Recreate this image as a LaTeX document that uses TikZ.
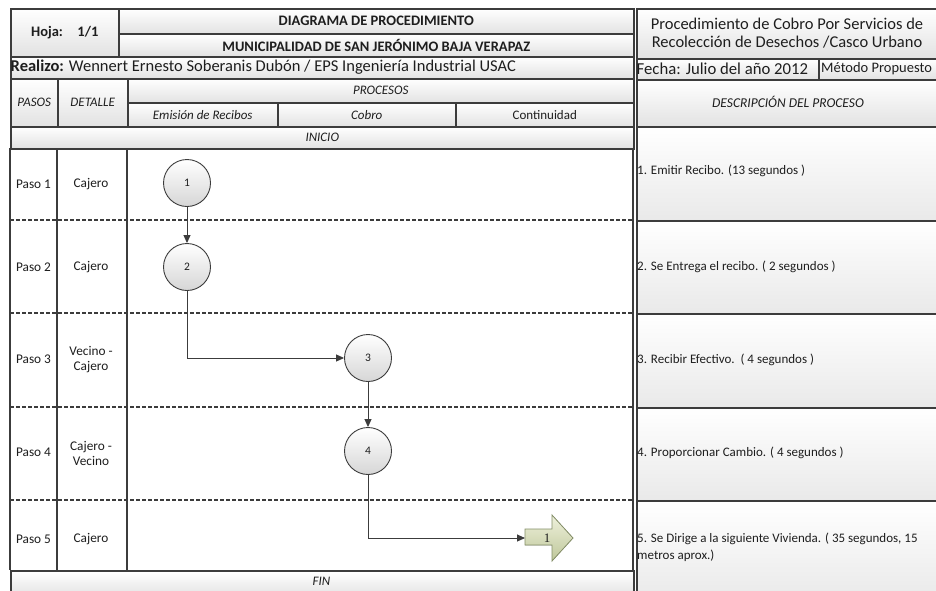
\documentclass[tikz,border=0pt]{standalone}
\usepackage{fontspec}
\setmainfont{Carlito}
\newfontfamily\numfont{Liberation Serif}
\usetikzlibrary{arrows.meta}
\definecolor{bdr}{HTML}{3C3C3C}
\definecolor{cellbot}{HTML}{E2E2E2}
\definecolor{descbot}{HTML}{E9E9E9}
\definecolor{circbot}{HTML}{D6D6D6}
\definecolor{arrtop}{HTML}{EEF1DC}
\definecolor{arrbot}{HTML}{BFC79A}
\definecolor{arrbdr}{HTML}{858F68}
\definecolor{txt}{HTML}{1E1E1E}
\newcommand{\fsz}[2]{\fontsize{#1}{#2}\selectfont}
\begin{document}
\begin{tikzpicture}[x=1pt,y=-1pt,
  cell/.style={draw=bdr, line width=1.5pt, top color=white, bottom color=cellbot,
    inner sep=0pt, anchor=north west, text=txt},
  desccell/.style={draw=bdr, line width=1.5pt, top color=white, bottom color=descbot,
    inner sep=0pt, anchor=north west},
  lane/.style={draw=bdr, line width=1.6pt},
  sep/.style={draw=bdr, line width=1.6pt, dash pattern=on 4pt off 2pt},
  titletxt/.style={font=\fsz{14.5}{17}\bfseries, text=txt},
  bigtxt/.style={font=\fsz{16.5}{19}, text=txt},
  smalltxt/.style={font=\fsz{13.3}{15}, text=txt, align=center},
  labtxt/.style={font=\fsz{13}{15}\itshape, text=txt},
  desctxt/.style={font=\fsz{13}{17}, text=txt, anchor=west, align=left},
  proc/.style={circle, draw=bdr, line width=0.9pt, top color=white, bottom color=circbot,
    minimum size=47pt, inner sep=0pt, font=\fsz{11.5}{13}, text=txt},
  conn/.style={draw=bdr, line width=0.9pt, -{Triangle[length=8pt,width=7pt]}}
]
\useasboundingbox (0,0) rectangle (936,590);
\clip (0,0) rectangle (936,590);
\fill[white] (0,0) rectangle (936,590);

% ---------- header left ----------
\node[cell, minimum width=108pt, minimum height=48pt, titletxt] (hoja) at (10,8) {Hoja:\quad 1/1};
\node[cell, minimum width=515pt, minimum height=25pt, titletxt] (tit1) at (118,8) {DIAGRAMA DE PROCEDIMIENTO};
\node[cell, minimum width=515pt, minimum height=23pt, titletxt] (tit2) at (118,33) {MUNICIPALIDAD DE SAN JERÓNIMO BAJA VERAPAZ};
\node[cell, minimum width=623pt, minimum height=22pt] (realizo) at (10,56) {};
\node[bigtxt, anchor=west, inner sep=0pt] (realizotxt) at (10.5,67) {\textbf{Realizo:} Wennert Ernesto Soberanis Dubón / EPS Ingeniería Industrial USAC};

\node[cell, minimum width=47pt, minimum height=48pt, labtxt] (pasos) at (10,78) {PASOS};
\node[cell, minimum width=70pt, minimum height=48pt, labtxt] (detalle) at (57,78) {DETALLE};
\node[cell, minimum width=506pt, minimum height=24pt, labtxt] (procesos) at (127,78) {PROCESOS};
\node[cell, minimum width=150pt, minimum height=24pt, labtxt] (emision) at (127,102) {Emisión de Recibos};
\node[cell, minimum width=178pt, minimum height=24pt, labtxt] (cobro) at (277,102) {Cobro};
\node[cell, minimum width=178pt, minimum height=24pt, font=\fsz{13}{15}] (contin) at (455,102) {Continuidad};
\node[cell, minimum width=623pt, minimum height=22pt, labtxt] (inicio) at (10,126) {INICIO};

% ---------- header right ----------
\node[cell, minimum width=320pt, minimum height=50pt] (rtitle) at (636,8) {};
\node[bigtxt, align=center, font=\fsz{16.5}{18.5}] (rtitletxt) at (787,33)
  {Procedimiento de Cobro Por Servicios de\\Recolección de Desechos /Casco Urbano};
\node[cell, minimum width=182pt, minimum height=21pt] (fecha) at (636,58) {};
\node[bigtxt, anchor=west, inner sep=0pt, font=\fsz{16.7}{19}] (fechatxt) at (636.5,68.5) {Fecha: Julio del año 2012};
\node[cell, minimum width=140pt, minimum height=21pt] (metodo) at (818,58) {};
\node[bigtxt, anchor=west, inner sep=0pt, font=\fsz{14.5}{17}] (metodotxt) at (821,68.5) {Método Propuesto};
\node[cell, minimum width=320pt, minimum height=47pt] (descp) at (636,79) {};
\node[labtxt, font=\fsz{13.5}{15}\itshape] (descptxt) at (788,102) {DESCRIPCIÓN DEL PROCESO};

% ---------- description cells ----------
\node[desccell, minimum width=320pt, minimum height=94pt] (d1) at (636,126) {};
\node[desccell, minimum width=320pt, minimum height=93pt] (d2) at (636,220) {};
\node[desccell, minimum width=320pt, minimum height=94pt] (d3) at (636,313) {};
\node[desccell, minimum width=320pt, minimum height=93pt] (d4) at (636,407) {};
\node[desccell, minimum width=320pt, minimum height=100pt] (d5) at (636,500) {};
\node[desctxt, inner sep=0pt] (d1t) at (637,171) {1. Emitir Recibo. (13 segundos )};
\node[desctxt, inner sep=0pt] (d2t) at (637,267) {2. Se Entrega el recibo. ( 2 segundos )};
\node[desctxt, inner sep=0pt] (d3t) at (637,360) {3. Recibir Efectivo.\ \ ( 4 segundos )};
\node[desctxt, inner sep=0pt] (d4t) at (637,453) {4. Proporcionar Cambio. ( 4 segundos )};
\node[desctxt, inner sep=0pt] (d5t) at (637,547)
  {5. Se Dirige a la siguiente Vivienda. ( 35 segundos, 15\\metros aprox.)};

% ---------- body lanes ----------
\path[lane] (10,148) -- (10,570);
\path[lane] (57,148) -- (57,570);
\path[lane] (127,148) -- (127,570);
\path[lane] (633,148) -- (633,570);
\path[sep] (10,220) -- (633,220);
\path[sep] (10,313) -- (633,313);
\path[sep] (10,407) -- (633,407);
\path[sep] (10,500) -- (633,500);

\node[cell, minimum width=623pt, minimum height=26pt] (fin) at (10,570) {};
\node[labtxt] (fintxt) at (321.5,581) {FIN};

% step labels
\node[smalltxt] (p1) at (33.5,184) {Paso 1};
\node[smalltxt] (p2) at (33.5,267) {Paso 2};
\node[smalltxt] (p3) at (33.5,359) {Paso 3};
\node[smalltxt] (p4) at (33.5,452) {Paso 4};
\node[smalltxt] (p5) at (33.5,539) {Paso 5};
\node[smalltxt] (e1) at (91,184) {Cajero};
\node[smalltxt] (e2) at (91,267) {Cajero};
\node[smalltxt] (e3) at (91,360) {Vecino -\\Cajero};
\node[smalltxt] (e4) at (91,453) {Cajero -\\Vecino};
\node[smalltxt] (e5) at (91,539) {Cajero};

% ---------- process circles ----------
\node[proc] (c1) at (187,183) {1};
\node[proc] (c2) at (187,267) {2};
\node[proc] (c3) at (368,358) {3};
\node[proc] (c4) at (368,451) {4};

% off-page connector arrow
\filldraw[draw=arrbdr, line width=0.8pt, top color=arrtop, bottom color=arrbot]
  (525,529) -- (552,529) -- (552,515) -- (573,538) -- (552,561) -- (552,545) -- (525,545) -- cycle;
\coordinate (nxin) at (525,538);
\node[font=\numfont\fsz{13}{15}, text=txt] (nxt) at (547,538) {1};

% ---------- connectors ----------
\draw[conn] (c1.south) -- (c2.north);
\draw[conn] (c2.south) |- (c3.west);
\draw[conn] (c3.south) -- (c4.north);
\draw[conn] (c4.south) |- (nxin);
\end{tikzpicture}
\end{document}
